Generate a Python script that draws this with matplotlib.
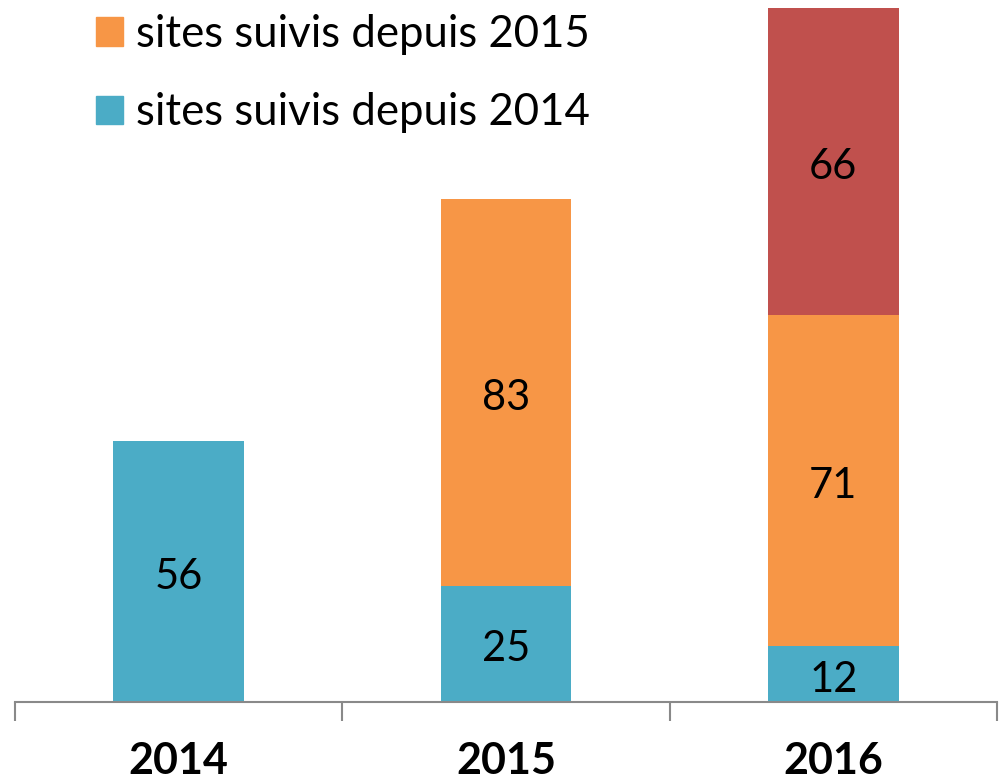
import numpy as np
import matplotlib.pyplot as plt
from matplotlib.patches import Patch

plt.rcParams['font.family'] = ['Lato', 'DejaVu Sans']

years = ['2014', '2015', '2016']
depuis_2014 = [56, 25, 12]
depuis_2015 = [0, 83, 71]
depuis_2016 = [0, 0, 66]
legend_labels = ['sites suivis depuis 2015', 'sites suivis depuis 2014']

teal = '#4BACC6'
orange = '#F79646'
red = '#C0504D'

fig = plt.figure(figsize=(10.03, 7.84), dpi=100)
ax = fig.add_axes([15 / 1003, 82 / 784, 982 / 1003, 702 / 784])

x = np.arange(len(years))
w = 0.4
b1 = np.array(depuis_2014)
b2 = np.array(depuis_2015)
b3 = np.array(depuis_2016)

c1 = ax.bar(x, b1, w, color=teal)
c2 = ax.bar(x, b2, w, bottom=b1, color=orange)
c3 = ax.bar(x, b3, w, bottom=b1 + b2, color=red)

for c, vals in ((c1, b1), (c2, b2), (c3, b3)):
    labs = [str(v) if v > 0 else '' for v in vals]
    txts = ax.bar_label(c, labels=labs, label_type='center', fontsize=30, color='black')
    for t in txts:
        t.xyann = (0, -4)

ax.set_xlim(-0.5, 2.5)
ax.set_ylim(0, 702 / 4.66)

for s in ('top', 'right', 'left'):
    ax.spines[s].set_visible(False)
ax.spines['bottom'].set_color('#898989')
ax.spines['bottom'].set_linewidth(1.5)
ax.set_yticks([])

ax.set_xticks([-0.5, 0.5, 1.5, 2.5], minor=False)
ax.set_xticklabels([])
ax.tick_params(axis='x', which='major', length=14, width=1.5, color='#898989')
ax.set_xticks(x, minor=True)
ax.set_xticklabels(years, minor=True, fontsize=31, fontweight='bold')
ax.tick_params(axis='x', which='minor', length=0, pad=28)

handles = [Patch(color=orange), Patch(color=teal)]
ax.legend(handles, legend_labels, loc='upper left', bbox_to_anchor=(96 / 1003, 1 - 14 / 784),
          bbox_transform=fig.transFigure, frameon=False, fontsize=31.5,
          borderaxespad=0, borderpad=0,
          handlelength=0.62, handleheight=0.62, handletextpad=0.3, labelspacing=0.85)

fig.savefig('out.png', dpi=100)
